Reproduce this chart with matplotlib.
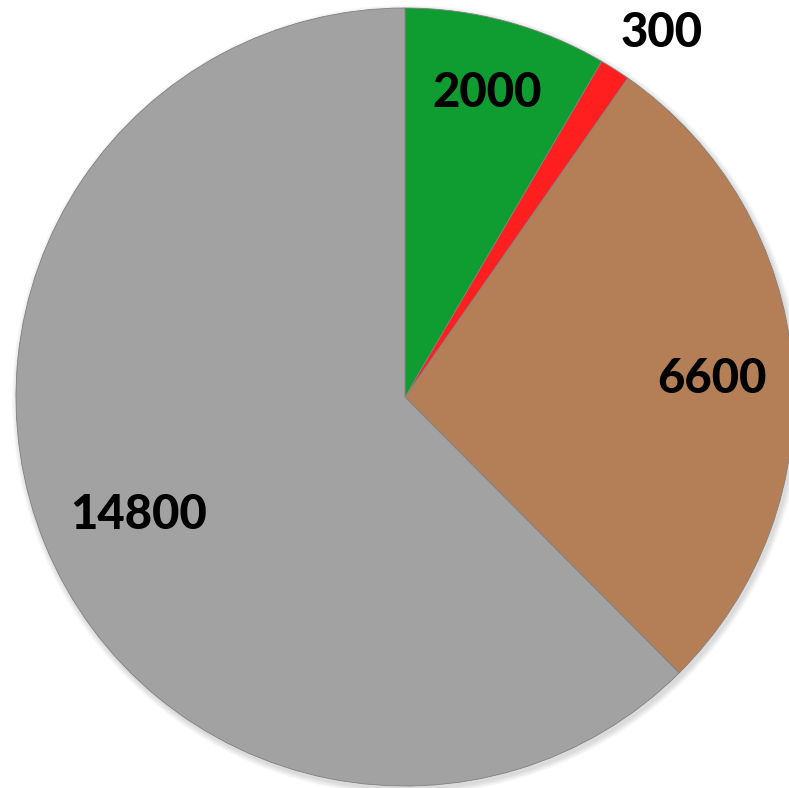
import numpy as np
import matplotlib
matplotlib.use('Agg')
import matplotlib.pyplot as plt

values = [2000, 300, 6600, 14800]
labels = ['2000', '300', '6600', '14800']
colors = ['#0f9d32', '#ff1f1f', '#b47f56', '#a2a2a2']
label_dist = [0.81, 1.145, 0.79, 0.75]
label_rot = [0, -2.5, -1.5, 1.5]  # small angular nudges, degrees

plt.rcParams['font.family'] = ['Lato', 'DejaVu Sans']

fig = plt.figure(figsize=(7.89, 7.88), dpi=100)
ax = fig.add_axes([0, 0, 1, 1])

cx, cy, r = 405, 391, 389

# soft shadow
for k in range(6):
    ax.add_patch(plt.Circle((cx + 2, cy - 3), r + 1 + k, color='black', alpha=0.025, lw=0))

wedges, _ = ax.pie(values, colors=colors, startangle=90, counterclock=False,
                   center=(cx, cy), radius=r, frame=True,
                   wedgeprops=dict(edgecolor='#808080', linewidth=0.6))
ax.set_xlim(0, 789)
ax.set_ylim(0, 788)
ax.set_aspect('equal')
ax.axis('off')

for w, lab, d, dr in zip(wedges, labels, label_dist, label_rot):
    ang = np.deg2rad((w.theta1 + w.theta2) / 2 + dr)
    x = cx + d * r * np.cos(ang)
    y = cy + d * r * np.sin(ang)
    ax.text(x, y, lab, ha='center', va='center', fontsize=34, fontweight='black', color='black')

fig.savefig('out.png', dpi=100)
